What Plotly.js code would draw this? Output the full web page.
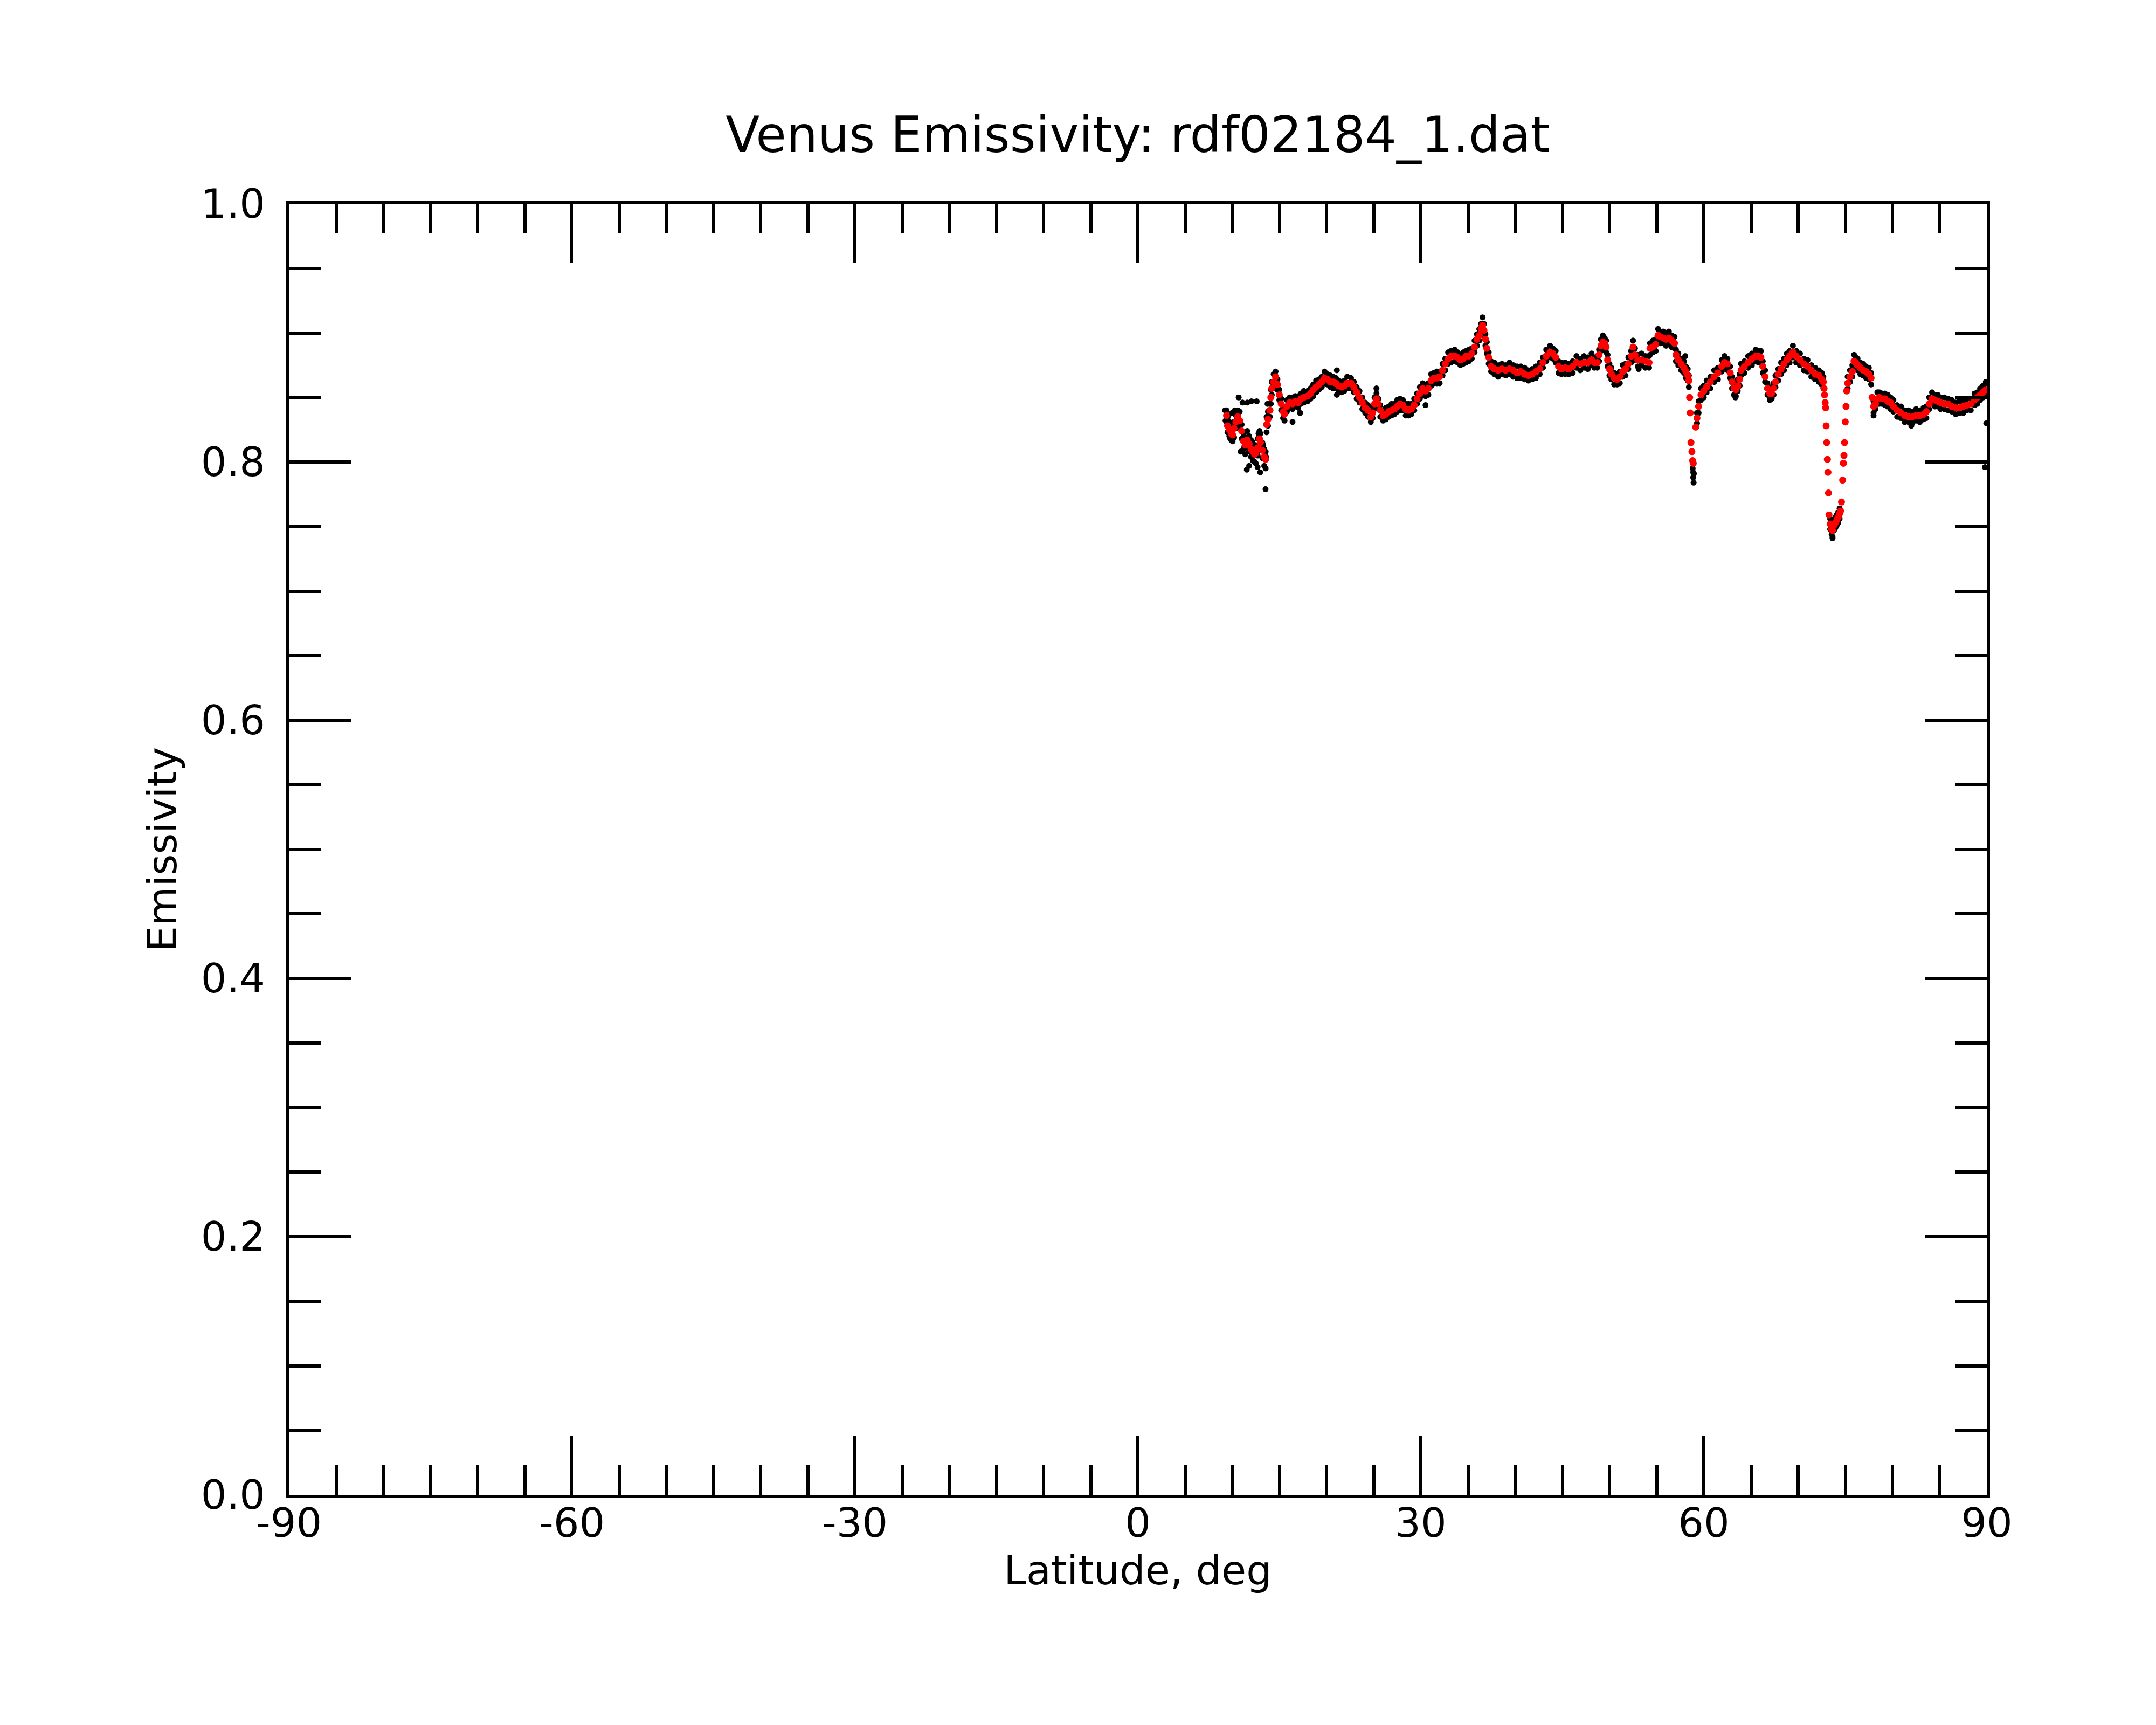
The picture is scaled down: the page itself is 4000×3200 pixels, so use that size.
<!DOCTYPE html>
<html>
<head>
<meta charset="utf-8">
<script src="https://cdn.plot.ly/plotly-3.0.1.min.js"></script>
<style>
  body { margin: 0; background: #fff; }
  #chart { width: 4000px; height: 3200px; }
</style>
</head>
<body>
<div id="chart"></div>
<script>
// Venus emissivity along one orbit track

// Data
// latitude of each sample, deg
var lat = [
  9.4, 9.5, 9.7, 9.9, 10.05, 10.2, 10.4, 10.6, 10.8, 11.0,
  11.2, 11.4, 11.6, 11.8, 12.0, 12.2, 12.4, 12.5, 12.7, 12.9,
  13.0, 13.2, 13.4, 13.55, 13.65, 13.8, 14.0, 14.1, 14.2, 14.4,
  14.6, 14.8, 15.0, 15.2, 15.4, 15.55, 15.8, 16.1, 16.4, 16.7,
  17.0, 17.3, 17.6, 18.0, 18.3, 18.6, 18.9, 19.2, 19.5, 19.8,
  20.1, 20.4, 20.7, 21.0, 21.3, 21.6, 21.9, 22.2, 22.6, 22.9,
  23.2, 23.5, 23.8, 24.1, 24.4, 24.7, 24.9, 25.1, 25.3, 25.5,
  25.7, 26.0, 26.3, 26.6, 26.9, 27.2, 27.5, 27.8, 28.1, 28.4,
  28.7, 29.0, 29.3, 29.6, 29.9, 30.2, 30.5, 30.8, 31.1, 31.4,
  31.7, 32.0, 32.3, 32.6, 32.9, 33.2, 33.6, 33.9, 34.2, 34.5,
  34.8, 35.1, 35.4, 35.7, 35.95, 36.2, 36.4, 36.55, 36.7, 36.85,
  37.0, 37.2, 37.45, 37.8, 38.2, 38.6, 39.0, 39.4, 39.8, 40.2,
  40.6, 41.0, 41.4, 41.8, 42.2, 42.6, 42.95, 43.3, 43.7, 44.0,
  44.3, 44.6, 44.9, 45.3, 45.7, 46.1, 46.5, 46.9, 47.3, 47.7,
  48.1, 48.4, 48.7, 48.9, 49.1, 49.3, 49.5, 49.65, 49.8, 50.0,
  50.2, 50.5, 50.8, 51.1, 51.4, 51.7, 52.0, 52.3, 52.5, 52.7,
  53.0, 53.4, 53.8, 54.2, 54.3, 54.6, 54.9, 55.15, 55.4, 55.7,
  56.0, 56.3, 56.6, 56.9, 57.05, 57.3, 57.6, 57.9, 58.1, 58.3,
  58.42, 58.5, 58.56, 58.64, 58.74, 58.82, 58.88, 59.15, 59.28, 59.45,
  59.7, 60.0, 60.3, 60.7, 61.1, 61.5, 61.9, 62.2, 62.5, 62.8,
  63.0, 63.2, 63.4, 63.6, 63.8, 63.95, 64.3, 64.7, 65.1, 65.5,
  65.8, 66.05, 66.25, 66.5, 66.75, 67.0, 67.2, 67.4, 67.6, 67.9,
  68.2, 68.5, 68.8, 69.1, 69.45, 69.8, 70.2, 70.6, 71.0, 71.4,
  71.8, 72.2, 72.5, 72.68, 72.75, 72.8, 72.87, 72.92, 72.97, 73.03,
  73.1, 73.16, 73.22, 73.27, 73.4, 73.55, 73.65, 73.8, 73.95, 74.1,
  74.25, 74.4, 74.5, 74.6, 74.72, 74.8, 74.86, 74.92, 75.0, 75.08,
  75.15, 75.25, 75.5, 75.75, 75.93, 76.1, 76.3, 76.6, 76.9, 77.2,
  77.5, 77.74, 77.84, 78.0, 78.2, 78.4, 78.6, 78.9, 79.2, 79.5,
  79.8, 80.1, 80.5, 80.9, 81.3, 81.7, 82.1, 82.5, 82.9, 83.3,
  83.6, 83.9, 84.2, 84.5, 84.8, 85.1, 85.5, 85.9, 86.3, 86.7,
  87.1, 87.5, 87.9, 88.3, 88.7, 89.0, 89.3, 89.6, 89.9
];

// smoothed emissivity (red)
var emis_smooth = [
  .836, .828, .825, .822, .821, .826, .831, .835, .832, .824,
  .816, .813, .817, .814, .810, .808, .806, .807, .811, .818,
  .815, .809, .804, .802, .829, .833, .840, .850, .857, .862,
  .866, .860, .852, .845, .839, .837, .843, .846, .845, .847,
  .846, .849, .850, .851, .853, .856, .858, .860, .862, .865,
  .864, .862, .862, .861, .859, .858, .859, .861, .861, .858,
  .854, .850, .846, .842, .840, .835, .838, .845, .849, .845,
  .840, .836, .837, .839, .840, .841, .843, .845, .844, .841,
  .840, .841, .844, .849, .853, .857, .855, .857, .863, .865,
  .865, .866, .871, .876, .880, .882, .882, .881, .879, .880,
  .882, .882, .884, .889, .895, .898, .903, .906, .902, .895,
  .888, .881, .874, .872, .871, .872, .871, .872, .871, .869,
  .870, .868, .867, .868, .870, .872, .877, .882, .885, .884,
  .881, .874, .872, .873, .872, .874, .877, .876, .877, .877,
  .879, .877, .877, .883, .890, .893, .892, .889, .879, .872,
  .868, .865, .864, .866, .870, .872, .876, .882, .889, .883,
  .879, .879, .878, .877, .888, .889, .891, .898, .897, .896,
  .895, .896, .894, .892, .883, .879, .876, .873, .870, .867,
  .863, .850, .838, .815, .808, .801, .799, .827, .834, .843,
  .852, .855, .858, .862, .866, .869, .874, .877, .876, .869,
  .862, .857, .856, .859, .864, .871, .874, .877, .880, .882,
  .882, .881, .874, .866, .857, .853, .853, .857, .862, .868,
  .872, .876, .879, .882, .885, .882, .879, .876, .874, .871,
  .868, .867, .864, .862, .857, .852, .846, .842, .828, .815,
  .802, .792, .776, .759, .752, .748, .747, .751, .753, .755,
  .757, .760, .762, .769, .786, .799, .805, .815, .831, .843,
  .855, .861, .866, .870, .878, .877, .875, .873, .871, .870,
  .868, .865, .850, .843, .845, .849, .850, .849, .849, .847,
  .846, .843, .840, .838, .836, .835, .835, .836, .836, .837,
  .839, .845, .849, .848, .847, .846, .845, .845, .843, .842,
  .842, .843, .844, .845, .848, .850, .852, .854, .856
];

// raw emissivity at the same samples (black), two readings per sample;
// null where no raw point shows
var emis_raw_a = [
  .840, .823, .831, .817, .826, .819, .836, .829, .839, .818,
  .822, .806, .824, .808, .817, .801, .812, .799, .818, .812,
  .822, .803, .797, .795, .823, .839, .835, .856, .862, .868,
  .870, .856, .848, .840, .834, .832, .848, .842, .850, .843,
  .851, .845, .855, .847, .857, .851, .863, .856, .866, .870,
  .860, .867, .857, .865, .854, .862, .855, .866, .857, .862,
  .849, .855, .841, .846, .835, .831, .834, .850, .853, .841,
  .835, .832, .842, .835, .845, .837, .848, .840, .848, .836,
  .845, .837, .849, .845, .858, .852, .860, .852, .868, .861,
  .870, .861, .876, .871, .885, .877, .887, .877, .875, .885,
  .877, .887, .880, .894, .890, .903, .899, .912, .907, .890,
  .893, .876, .870, .877, .866, .876, .867, .877, .866, .874,
  .865, .873, .863, .872, .865, .877, .873, .887, .890, .880,
  .886, .869, .877, .868, .876, .869, .882, .871, .882, .872,
  .884, .873, .882, .878, .895, .898, .887, .894, .874, .867,
  .873, .860, .868, .861, .875, .867, .881, .877, .894, .888,
  .874, .884, .873, .882, .883, .894, .886, .903, .892, .901,
  .890, .901, .889, .897, .878, .884, .871, .878, .865, .872,
  .858, null, null, null, null, .795, .788, null, .830, .838,
  .857, .850, .863, .857, .871, .864, .879, .882, .871, .874,
  .857, .852, .851, .864, .859, .876, .869, .882, .875, .887,
  .877, .886, .869, .871, .852, .848, .858, .852, .867, .863,
  .877, .871, .884, .877, .890, .877, .884, .871, .879, .866,
  .873, .862, .869, .857, null, null, null, null, null, null,
  null, null, null, null, .748, .744, .742, .747, .757, .751,
  .761, .756, null, null, null, null, null, null, null, null,
  null, .866, .871, .875, .883, .873, .880, .868, .876, .865,
  .873, .860, null, .838, .849, .854, .845, .853, .844, .852,
  .841, .848, .835, .843, .831, .840, .830, .841, .831, .842,
  .834, .850, .854, .843, .852, .841, .850, .840, .848, .837,
  .847, .838, .849, .840, .853, .845, .857, .859, .861
];
var emis_raw_b = [
  .831, .833, .820, .827, .816, .831, .826, .840, .827, .829,
  .810, .819, .811, .820, .804, .814, .800, .813, .805, .824,
  .809, .815, .810, .808, .835, .828, .845, .845, .852, .857,
  .861, .864, .856, .849, .843, .841, .839, .850, .841, .851,
  .842, .853, .846, .855, .849, .860, .854, .864, .858, .861,
  .868, .858, .866, .857, .863, .854, .863, .857, .865, .854,
  .858, .846, .850, .838, .844, .839, .842, .841, .845, .849,
  .844, .840, .833, .843, .836, .845, .839, .849, .840, .845,
  .836, .845, .840, .853, .849, .861, .851, .861, .859, .869,
  .861, .870, .867, .880, .876, .886, .878, .885, .883, .876,
  .886, .878, .888, .885, .899, .894, .907, .902, .898, .899,
  .884, .885, .878, .868, .875, .868, .875, .868, .875, .865,
  .874, .864, .871, .864, .874, .868, .881, .878, .881, .888,
  .877, .878, .868, .877, .868, .878, .873, .880, .873, .881,
  .875, .881, .873, .887, .886, .889, .896, .885, .883, .876,
  .864, .869, .860, .870, .866, .876, .872, .886, .885, .879,
  .883, .875, .882, .873, .892, .885, .895, .894, .901, .892,
  .899, .892, .898, .888, .887, .875, .880, .869, .874, .863,
  .867, null, null, null, null, null, .792, null, .838, .847,
  .848, .859, .854, .866, .862, .873, .870, .873, .880, .865,
  .866, .861, .860, .855, .868, .867, .878, .873, .884, .878,
  .886, .877, .878, .862, .861, .857, .849, .861, .858, .872,
  .868, .880, .875, .886, .881, .886, .875, .880, .870, .875,
  .864, .871, .860, .866, null, null, null, null, null, null,
  null, null, null, null, .756, .752, .751, .755, .749, .759,
  .753, .764, null, null, null, null, null, null, null, null,
  null, .857, .862, .866, .874, .881, .871, .877, .867, .874,
  .864, .869, null, .847, .841, .845, .854, .845, .853, .843,
  .850, .839, .844, .834, .840, .831, .839, .832, .840, .833,
  .843, .841, .845, .852, .843, .850, .841, .849, .839, .846,
  .838, .847, .840, .849, .844, .854, .848, .850, .852
];

// scattered raw points away from the smoothed curve
var extra_lat = [
  9.25, 9.3, 9.6, 9.8, 10.0, 10.3, 10.5, 10.69, 10.9, 11.1,
  11.3, 11.55, 11.6, 11.8, 12.04, 12.1, 12.3, 12.6, 12.7, 12.8,
  12.97, 13.1, 13.3, 13.54, 13.6, 13.75, 16.4, 17.2, 21.1, 21.1,
  25.3, 30.5, 53.1, 58.03, 58.92, 58.95, 63.36, 73.65, 78.0, 82.0,
  89.8, 89.9, 89.95
];
var extra_emis = [
  .840, .832, .836, .818, .838, .840, .834, .850, .808, .846,
  .812, .794, .846, .797, .847, .816, .812, .847, .796, .822,
  .792, .810, .813, .779, .804, .845, .831, .838, .852, .871,
  .857, .844, .872, .882, .784, .791, .850, .741, .836, .828,
  .796, .862, .830
];

// axis labels as printed (plain hyphen minus)
var x_tickvals = [-90, -60, -30, 0, 30, 60, 90];
var x_ticktext = ['-90', '-60', '-30', '0', '30', '60', '90'];
var y_tickvals = [0, 0.2, 0.4, 0.6, 0.8, 1.0];
var y_ticktext = ['0.0', '0.2', '0.4', '0.6', '0.8', '1.0'];

var title_text = 'Venus Emissivity: rdf02184_1.dat';
var x_title = 'Latitude, deg';
var y_title = 'Emissivity';


// Drawing
function axis_style(range, tickvals, ticktext, minor_dtick, major_len, minor_len) {
  return {
    range: range,
    tickmode: 'array',
    tickvals: tickvals,
    ticktext: ticktext,
    ticks: 'inside',
    ticklen: major_len,
    tickwidth: 6,
    tickcolor: 'black',
    showline: true,
    linewidth: 6,
    linecolor: 'black',
    mirror: 'allticks',
    showgrid: false,
    zeroline: false,
    tickfont: {size: 75, color: 'black'},
    minor: {
      tickmode: 'linear',
      dtick: minor_dtick,
      tick0: range[0],
      ticks: 'inside',
      ticklen: minor_len,
      tickwidth: 6,
      tickcolor: 'black',
      showgrid: false,
    },
  };
}

var raw_trace = {
  x: lat.concat(lat, extra_lat),
  y: emis_raw_a.concat(emis_raw_b, extra_emis),
  type: 'scatter',
  mode: 'markers',
  marker: {color: 'black', size: 11},
  hoverinfo: 'x+y',
};

var smooth_trace = {
  x: lat,
  y: emis_smooth,
  type: 'scatter',
  mode: 'markers',
  marker: {color: '#ff0000', size: 13},
  hoverinfo: 'x+y',
};

var xaxis = axis_style([-90, 90], x_tickvals, x_ticktext, 5, 110, 55);
xaxis.ticklabelstandoff = -18;
xaxis.title = {text: x_title, font: {size: 75, color: 'black'}, standoff: 4};

var yaxis = axis_style([0, 1], y_tickvals, y_ticktext, 0.05, 115, 59);
yaxis.ticklabelstandoff = 23;
yaxis.title = {text: y_title, font: {size: 75, color: 'black'}, standoff: 22};

var layout = {
  width: 4000,
  height: 3200,
  margin: {l: 536, r: 314, t: 378, b: 427},
  paper_bgcolor: 'white',
  plot_bgcolor: 'white',
  font: {family: 'DejaVu Sans', color: 'black'},
  showlegend: false,
  title: {
    text: title_text,
    font: {size: 92, color: 'black'},
    x: 0.5,
    xref: 'paper',
    y: 1 - 250 / 3200,
    yref: 'container',
    yanchor: 'middle',
  },
  xaxis: xaxis,
  yaxis: yaxis,
};

Plotly.newPlot('chart', [raw_trace, smooth_trace], layout, {displayModeBar: false, staticPlot: true});
</script>
</body>
</html>
